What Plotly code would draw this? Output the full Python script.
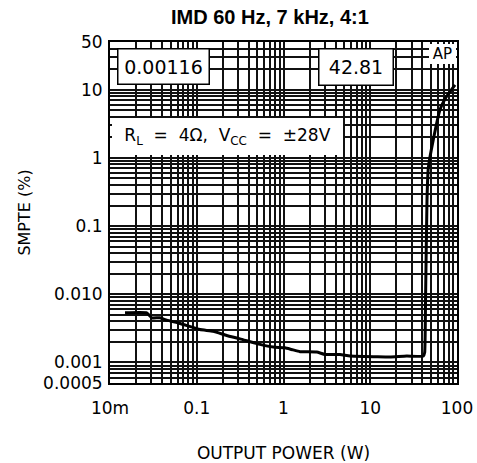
import plotly.graph_objects as go

# SMPTE IMD vs output power
power_w = [0.0149, 0.0265, 0.0303, 0.0377, 0.0451, 0.0642, 0.109, 0.155, 0.221, 0.315,
           0.536, 0.763, 1.04, 1.24, 1.55, 2.41, 3.01, 4.48, 5.84, 11.9, 16.9, 26.3,
           40.9, 42.4, 43.4, 45.1, 46.7, 53.3, 63.7, 76.0, 94.9]
smpte_pct = [0.00535, 0.00535, 0.00452, 0.00452, 0.00417, 0.00373, 0.00304, 0.00287,
             0.00249, 0.00222, 0.00184, 0.00168, 0.00164, 0.00155, 0.00144, 0.00142,
             0.00131, 0.00131, 0.00124, 0.00121, 0.00120, 0.00124, 0.00124, 0.0014,
             0.0084, 0.244, 0.713, 1.85, 5.09, 7.98, 11.8]

x_tickvals = [0.01, 0.1, 1, 10, 100]
x_ticktext = ["10m", "0.1", "1", "10", "100"]
y_tickvals = [0.0005, 0.001, 0.01, 0.1, 1, 10, 50]
y_ticktext = ["0.0005", "0.001", "0.010", "0.1", "1", "10", "50"]

FONT = "DejaVu Sans, Verdana, sans-serif"
GRID = "#111111"

fig = go.Figure()
fig.add_trace(go.Scatter(x=power_w, y=smpte_pct, mode="lines",
                         line=dict(color="black", width=3, shape="spline", smoothing=0.4),
                         showlegend=False, hoverinfo="skip"))

axis_common = dict(
    type="log", showline=True, linecolor="black", linewidth=2, mirror=True,
    showgrid=True, gridcolor=GRID, gridwidth=1.5, ticks="", zeroline=False,
    automargin=False,
    tickfont=dict(family=FONT, size=17, color="black"),
    minor=dict(dtick="D1", showgrid=True, gridcolor=GRID, gridwidth=1.5, ticks=""),
)

fig.update_xaxes(range=[-2, 2], tickvals=x_tickvals, ticktext=x_ticktext,
                 ticklabelstandoff=9,
                 title=dict(text="OUTPUT POWER (W)", font=dict(family=FONT, size=17, color="black"),
                            standoff=30),
                 **axis_common)
fig.update_yaxes(range=[-3.30103, 1.69897], tickvals=y_tickvals, ticktext=y_ticktext,
                 ticklabelstandoff=2,
                 title=dict(text="SMPTE (%)", font=dict(family=FONT, size=16, color="black"),
                            standoff=9),
                 **axis_common)

# boxed readouts and labels sitting on white over the grid
fig.add_annotation(x=0.1556, y=0.9268, xref="paper", yref="paper", text="0.00116",
                   xanchor="center", yanchor="middle",
                   showarrow=False, width=90, height=34, borderpad=0,
                   bgcolor="white", bordercolor="black", borderwidth=1.5,
                   font=dict(family=FONT, size=19, color="black"))
fig.add_annotation(x=0.7075, y=0.9253, xref="paper", yref="paper", text="42.81",
                   xanchor="center", yanchor="middle",
                   showarrow=False, width=73, height=35, borderpad=0,
                   bgcolor="white", bordercolor="black", borderwidth=1.5,
                   font=dict(family=FONT, size=19, color="black"))
fig.add_annotation(x=0.3386, y=0.7233, xref="paper", yref="paper",
                   text="R<sub>L</sub>  =  4\u03a9,  V<sub>CC</sub>  =  \u00b128V",
                   xanchor="center", yanchor="middle",
                   showarrow=False, width=231, height=37, borderpad=0,
                   bgcolor="white", borderwidth=0,
                   font=dict(family=FONT, size=17, color="black"))
fig.add_annotation(x=0.9568, y=0.9649, xref="paper", yref="paper", text="AP",
                   xanchor="center", yanchor="middle",
                   showarrow=False, width=27, height=20, borderpad=0,
                   bgcolor="white", borderwidth=0,
                   font=dict(family=FONT, size=15, color="black"))

fig.update_layout(
    width=477, height=463,
    margin=dict(l=110, r=20, t=42, b=79.5),
    paper_bgcolor="white", plot_bgcolor="white",
    title=dict(text="<b>IMD 60 Hz, 7 kHz, 4:1</b>", x=0.461, xref="paper", xanchor="center",
               y=0.963, yref="container", yanchor="middle",
               font=dict(family="Liberation Sans, Arial, sans-serif", size=20, color="black")),
)

fig.write_html("out.html", config={"displayModeBar": False},
               post_script="document.body.style.margin = '0';")
